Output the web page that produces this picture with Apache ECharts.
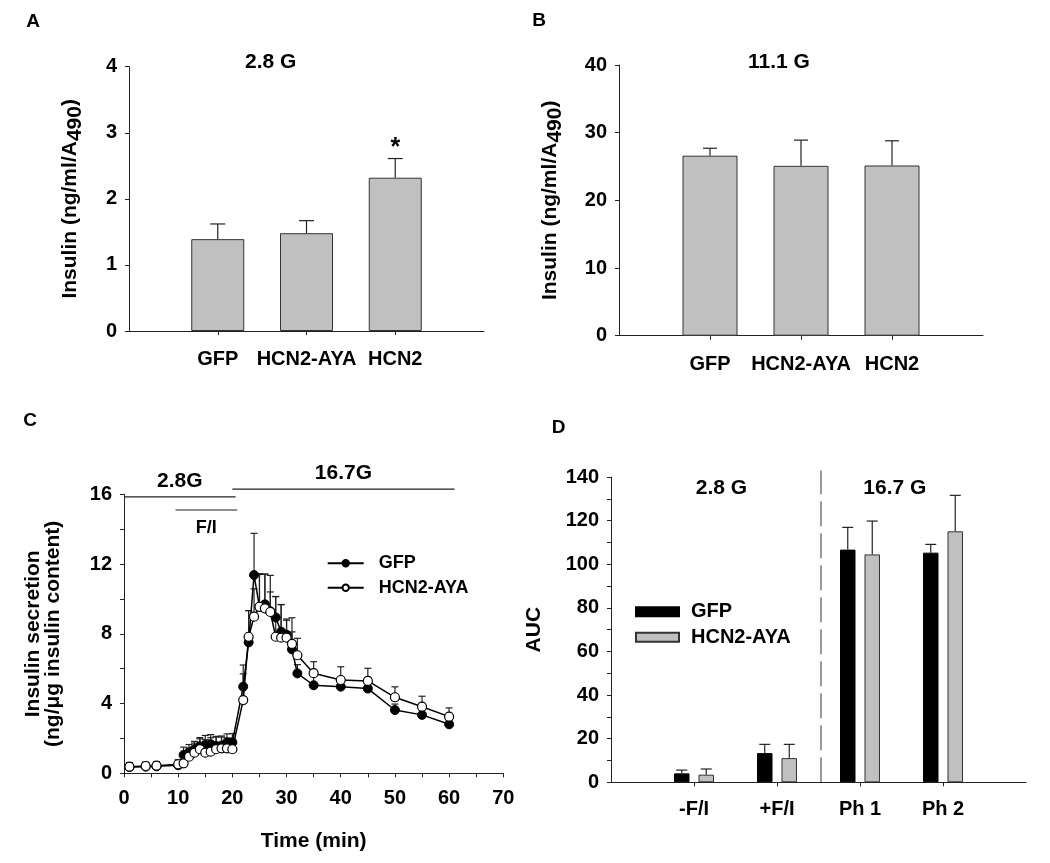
<!DOCTYPE html>
<html><head><meta charset="utf-8">
<script src="https://cdn.jsdelivr.net/npm/echarts@6/dist/echarts.min.js"></script>
<style>html,body{margin:0;padding:0;background:#fff}#c{width:1050px;height:863px}</style>
</head><body><div id="c"></div>
<script>
// ---------- Panel A ----------
const catsAB = ['GFP', 'HCN2-AYA', 'HCN2'];
const aVals = [1.39, 1.48, 2.32];
const aErr = [0.23, 0.19, 0.29];
const aSig = ['', '', '*'];
// ---------- Panel B ----------
const bVals = [26.6, 25.1, 25.15];
const bErr = [1.1, 3.8, 3.65];
// ---------- Panel C ----------
const cTimes = [1, 4, 6, 10, 11, 12, 13, 14, 15, 16, 17, 18, 19, 20, 22, 23, 24, 25, 26, 27, 28, 29, 30, 31, 32, 35, 40, 45, 50, 55, 60];
const cGfp = [0.36, 0.38, 0.40, 0.46, 1.05, 1.2, 1.38, 1.55, 1.62, 1.67, 1.57, 1.59, 1.76, 1.78, 4.97, 7.51, 11.37, 9.55, 9.69, 9.3, 8.94, 8.12, 7.95, 7.11, 5.73, 5.05, 4.97, 4.86, 3.63, 3.35, 2.81];
const cGfpErr = [0.25, 0.25, 0.25, 0.3, 0.45, 0.45, 0.45, 0.5, 0.55, 0.55, 0.55, 0.55, 0.5, 0.5, 1.24, 1.82, 2.39, 1.9, 1.74, 1.1, 1.2, 1.55, 0.9, 1.0, 0.5, 0.5, 0.3, 0.3, 0.34, 0.3, 0.25];
const cAya = [0.38, 0.42, 0.44, 0.52, 0.57, 0.95, 1.18, 1.38, 1.18, 1.24, 1.38, 1.43, 1.43, 1.38, 4.2, 7.83, 8.98, 9.55, 9.46, 9.25, 7.83, 7.78, 7.78, 7.42, 6.77, 5.74, 5.35, 5.30, 4.36, 3.82, 3.25];
const cAyaErr = [0.2, 0.2, 0.2, 0.25, 0.35, 0.5, 0.55, 0.6, 0.75, 0.8, 0.7, 0.65, 0.6, 0.6, 1.5, 1.5, 1.6, 1.85, 1.95, 2.1, 2.3, 1.9, 1.0, 1.5, 0.97, 0.66, 0.76, 0.72, 0.6, 0.6, 0.5];
const cSeriesNames = ['GFP', 'HCN2-AYA'];
const cBarLabels = ['2.8G', '16.7G', 'F/I'];
const cBarStart = [0, 20, 9.5];
const cBarEnd = [20.6, 61, 20.9];
const cBarLevel = [15.85, 16.3, 15.1];
// ---------- Panel D ----------
const dCats = ['-F/I', '+F/I', 'Ph 1', 'Ph 2'];
const dGfp = [4.1, 13.4, 106.7, 105.3];
const dGfpErr = [1.5, 4.0, 10.2, 3.8];
const dAya = [3.5, 11.1, 104.5, 115.1];
const dAyaErr = [2.6, 6.3, 15.3, 16.5];
const dGroupLabels = ['2.8 G', '16.7 G'];
const dGroupPos = [1.33, 3.42];
const dDivider = 2.53;
const dDividerTop = 143;

const FF = '"Liberation Sans", Arial, sans-serif';
const INK = '#222';
const TICK = 20, CAT = 20, TITLE = 21, YNAME = 21;
const chart = echarts.init(document.getElementById('c'), null, {renderer: 'canvas'});

const pad = a => ['', ...a, ''];
const notBlank = (i, v) => v !== '';

function valueAxis(gi, max, interval, minorSplit, name, nameGap, extra) {
  return Object.assign({
    gridIndex: gi, type: 'value', min: 0, max: max, interval: interval,
    axisLine: {show: true, lineStyle: {color: INK, width: 1}},
    axisTick: {show: true, inside: false, length: 4, lineStyle: {color: INK, width: 1}},
    minorTick: {show: minorSplit > 0, splitNumber: minorSplit || 5, length: 4, lineStyle: {color: INK, width: 1}},
    splitLine: {show: false}, minorSplitLine: {show: false},
    axisLabel: {color: '#000', fontSize: TICK, fontWeight: 'bold', fontFamily: FF, margin: 12},
    name: name, nameLocation: 'middle', nameGap: nameGap, nameRotate: 90,
    nameTextStyle: {color: '#000', fontSize: YNAME, fontWeight: 'bold', fontFamily: FF}
  }, extra || {});
}
function catAxis(gi, cats, margin) {
  return {
    gridIndex: gi, type: 'category', data: pad(cats), boundaryGap: false,
    axisLine: {show: true, lineStyle: {color: INK, width: 1}},
    axisTick: {show: true, length: 4, interval: notBlank, lineStyle: {color: INK, width: 1}},
    axisLabel: {interval: 0, color: '#000', fontSize: CAT, fontWeight: 'bold', fontFamily: FF, margin: margin},
    splitLine: {show: false}
  };
}

function errRender(capHalf, offset) {
  return function (params, api) {
    const x = api.value(0), v = api.value(1), e = api.value(2);
    const p0 = api.coord([x, v]);
    const p1 = api.coord([x, v + e]);
    const cx = p0[0] + offset;
    return {
      type: 'group',
      children: [
        {type: 'line', shape: {x1: cx, y1: p0[1], x2: cx, y2: p1[1]}, style: {stroke: INK, lineWidth: 1.2}},
        {type: 'line', shape: {x1: cx - capHalf, y1: p1[1], x2: cx + capHalf, y2: p1[1]}, style: {stroke: INK, lineWidth: 1.2}}
      ]
    };
  };
}
function errSeries(name, xi, yi, xs, vals, errs, capHalf, offset) {
  return {
    name: name, type: 'custom', xAxisIndex: xi, yAxisIndex: yi, z: 1, silent: true,
    renderItem: errRender(capHalf, offset), encode: {x: 0, y: 1},
    data: vals.map((v, i) => [xs[i], v, errs[i]])
  };
}
function sigSeries(xi, yi, vals, errs, sig) {
  return {
    name: 'sigA', type: 'custom', xAxisIndex: xi, yAxisIndex: yi, z: 3, silent: true,
    encode: {x: 0, y: 1},
    data: vals.map((v, i) => [i + 1, v + errs[i]]),
    renderItem: function (params, api) {
      const s = sig[params.dataIndex];
      if (!s) return null;
      const p = api.coord([api.value(0), api.value(1)]);
      return {type: 'text', x: p[0], y: p[1] + 2,
        style: {text: s, font: 'bold 25px ' + FF, fill: '#000', align: 'center', verticalAlign: 'bottom',
          textAlign: 'center', textVerticalAlign: 'bottom'}};
    }
  };
}

const barGray = {color: '#c0c0c0', borderColor: '#333', borderWidth: 1};
const dBarWidth = 15.5, dGapRatio = 0.58;
const dOff = (dBarWidth + dBarWidth * dGapRatio) / 2;
const richSub = {color: '#000', fontSize: YNAME, fontWeight: 'bold', fontFamily: FF, padding: [10, 0, 0, 0]};

const option = {
  animation: false,
  backgroundColor: '#fff',
  textStyle: {fontFamily: FF},
  grid: [
    {left: 129, top: 66.7, width: 355, height: 264.3, containLabel: false, outerBoundsMode: 'none'},
    {left: 619, top: 65, width: 364, height: 270.7, containLabel: false, outerBoundsMode: 'none'},
    {left: 124, top: 494.3, width: 379.3, height: 279, containLabel: false, outerBoundsMode: 'none'},
    {left: 611, top: 477, width: 415, height: 305.3, containLabel: false, outerBoundsMode: 'none'}
  ],
  xAxis: [
    catAxis(0, catsAB, 18),
    catAxis(1, catsAB, 19),
    {gridIndex: 2, type: 'value', min: 0, max: 70, interval: 10,
      axisLine: {show: true, lineStyle: {color: INK, width: 1}},
      axisTick: {show: true, length: 4, lineStyle: {color: INK, width: 1}},
      minorTick: {show: true, splitNumber: 2, length: 4, lineStyle: {color: INK, width: 1}},
      splitLine: {show: false},
      axisLabel: {color: '#000', fontSize: TICK, fontWeight: 'bold', fontFamily: FF, margin: 15},
      name: 'Time (min)', nameLocation: 'middle', nameGap: 57,
      nameTextStyle: {color: '#000', fontSize: TITLE, fontWeight: 'bold', fontFamily: FF}},
    catAxis(3, dCats, 17)
  ],
  yAxis: [
    valueAxis(0, 4, 1, 0, 'Insulin (ng/ml/A{s|490})', 43, {
      nameTextStyle: {color: '#000', fontSize: YNAME, fontWeight: 'bold', fontFamily: FF, rich: {s: richSub}}}),
    valueAxis(1, 40, 10, 0, 'Insulin (ng/ml/A{s|490})', 53, {
      nameTextStyle: {color: '#000', fontSize: YNAME, fontWeight: 'bold', fontFamily: FF, rich: {s: richSub}}}),
    valueAxis(2, 16, 4, 2, 'Insulin secretion\n(ng/\u03bcg insulin content)', 61, {
      nameTextStyle: {color: '#000', fontSize: YNAME, fontWeight: 'bold', fontFamily: FF, lineHeight: 20}}),
    valueAxis(3, 140, 20, 2, 'AUC', 66)
  ],
  legend: [
    {data: cSeriesNames, orient: 'vertical', left: 326.7, top: 553.3, padding: 0,
      itemWidth: 36, itemHeight: 8, itemGap: 4.4, selectedMode: false,
      textStyle: {color: '#000', fontSize: 18, fontWeight: 'bold', fontFamily: FF, lineHeight: 20, padding: [0, 0, 0, 10]}},
    {data: ['D-GFP', 'D-HCN2-AYA'], orient: 'vertical', left: 635, top: 600.7, padding: 0,
      icon: 'rect', itemWidth: 43, itemHeight: 9, itemGap: 3.6, selectedMode: false,
      formatter: n => n.replace('D-', ''),
      textStyle: {color: '#000', fontSize: 20, fontWeight: 'bold', fontFamily: FF, lineHeight: 22, padding: [0, 0, 0, 7]}}
  ],
  series: [
    // A
    {name: 'A-bars', type: 'bar', xAxisIndex: 0, yAxisIndex: 0, barWidth: 53, itemStyle: barGray, z: 2,
      data: pad(aVals).map(v => v === '' ? '-' : v)},
    errSeries('A-err', 0, 0, [1, 2, 3], aVals, aErr, 7.5, 0),
    sigSeries(0, 0, aVals, aErr, aSig),
    // B
    {name: 'B-bars', type: 'bar', xAxisIndex: 1, yAxisIndex: 1, barWidth: 55, itemStyle: barGray, z: 2,
      data: pad(bVals).map(v => v === '' ? '-' : v)},
    errSeries('B-err', 1, 1, [1, 2, 3], bVals, bErr, 7, 0),
    // C
    errSeries('C-err1', 2, 2, cTimes, cGfp, cGfpErr, 3.5, 0),
    errSeries('C-err2', 2, 2, cTimes, cAya, cAyaErr, 3.5, 0),
    {name: cSeriesNames[0], type: 'line', xAxisIndex: 2, yAxisIndex: 2, z: 3,
      data: cTimes.map((t, i) => [t, cGfp[i]]), symbol: 'circle', symbolSize: 9,
      itemStyle: {color: '#000', borderColor: '#000', borderWidth: 1},
      lineStyle: {color: '#000', width: 1.5}},
    {name: cSeriesNames[1], type: 'line', xAxisIndex: 2, yAxisIndex: 2, z: 4,
      data: cTimes.map((t, i) => [t, cAya[i]]), symbol: 'circle', symbolSize: 9,
      itemStyle: {color: '#fff', borderColor: '#000', borderWidth: 1.2},
      lineStyle: {color: '#000', width: 1.5}},
    // D
    {name: 'D-GFP', type: 'bar', xAxisIndex: 3, yAxisIndex: 3, barWidth: dBarWidth, barGap: (dGapRatio * 100) + '%', z: 2,
      itemStyle: {color: '#000', borderColor: '#000', borderWidth: 1},
      data: pad(dGfp).map(v => v === '' ? '-' : v)},
    {name: 'D-HCN2-AYA', type: 'bar', xAxisIndex: 3, yAxisIndex: 3, barWidth: dBarWidth, barGap: (dGapRatio * 100) + '%', z: 2,
      itemStyle: barGray,
      data: pad(dAya).map(v => v === '' ? '-' : v)},
    errSeries('D-err1', 3, 3, [1, 2, 3, 4], dGfp, dGfpErr, 5.5, -dOff),
    errSeries('D-err2', 3, 3, [1, 2, 3, 4], dAya, dAyaErr, 5.5, dOff)
  ]
};
chart.setOption(option);

// ---------- annotations placed through the axes ----------
const txt = (s, x, y, size, align, valign) => ({
  type: 'text', x: x, y: y, silent: true,
  style: {text: s, font: 'bold ' + size + 'px ' + FF, fill: '#000',
    align: align || 'center', verticalAlign: valign || 'middle',
    textAlign: align || 'center', textVerticalAlign: valign || 'middle'}
});
const g = [];
// panel letters and titles
g.push(txt('A', 33, 22, 19), txt('B', 539, 21, 19), txt('C', 30, 421, 19), txt('D', 558.5, 428, 19));
g.push(txt('2.8 G', 270.7, 62, TITLE), txt('11.1 G', 779, 62, TITLE));
// C condition bars
cBarLabels.forEach((lab, i) => {
  const p0 = chart.convertToPixel({gridIndex: 2}, [cBarStart[i], cBarLevel[i]]);
  const p1 = chart.convertToPixel({gridIndex: 2}, [cBarEnd[i], cBarLevel[i]]);
  g.push({type: 'line', silent: true, shape: {x1: p0[0], y1: p0[1], x2: p1[0], y2: p1[1]},
    style: {stroke: INK, lineWidth: 1.2}});
  const mx = (p0[0] + p1[0]) / 2;
  if (i === 2) g.push(txt(lab, mx, p0[1] + 18, 18));
  else g.push(txt(lab, mx, p0[1] - 16, TITLE));
});
// D divider and group labels
function dPix(xc, y) {
  const i0 = Math.floor(xc), f = xc - i0;
  const a = chart.convertToPixel({gridIndex: 3}, [i0, y]);
  const b = chart.convertToPixel({gridIndex: 3}, [i0 + 1, y]);
  return [a[0] + (b[0] - a[0]) * f, a[1]];
}
const dv0 = dPix(dDivider, 0), dv1 = dPix(dDivider, dDividerTop);
g.push({type: 'line', silent: true, shape: {x1: dv0[0], y1: dv0[1], x2: dv1[0], y2: dv1[1]},
  style: {stroke: '#333', lineWidth: 1, lineDash: [25, 7]}});
dGroupLabels.forEach((lab, i) => {
  const p = dPix(dGroupPos[i], 134.8);
  g.push(txt(lab, p[0], p[1], TITLE));
});
chart.setOption({graphic: g});
</script>
</body></html>
